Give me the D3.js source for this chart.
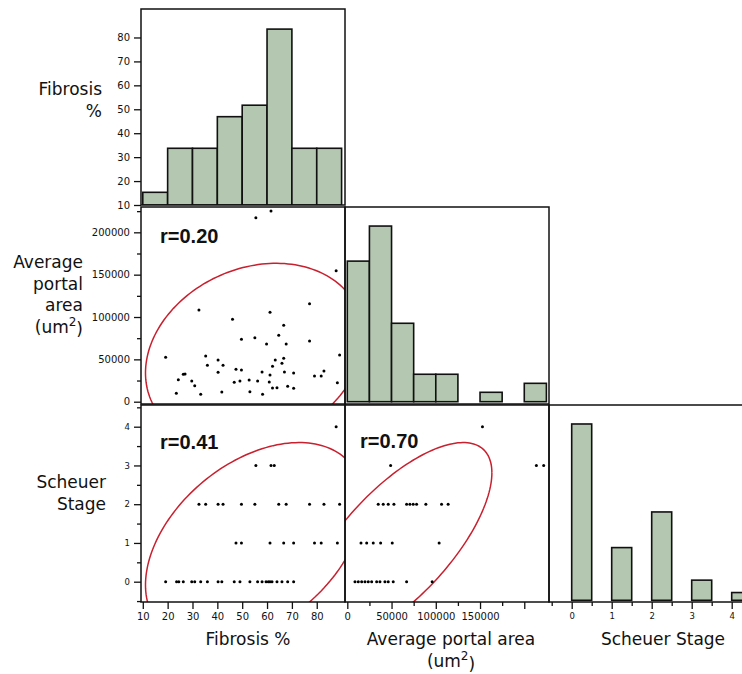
<!DOCTYPE html>
<meta charset="utf-8">
<style>
  body { margin: 0; background: #fff; }
  text { font-family: "DejaVu Sans", sans-serif; fill: #111; }
  .tick line { stroke: #111; stroke-width: 1.3; }
</style>
<svg width="742" height="674"></svg>
<script src="https://cdn.jsdelivr.net/npm/d3@7"></script>
<script>

// variables: fibrosis %, average portal area, scheuer stage
var varMeans = [54.9, 55500, 0.984];
var varSd = [17.9, 44080, 1.065];
var ellipseK = 2.4477; // 95% density ellipse
var corrFibArea = 0.20, corrFibStage = 0.41, corrAreaStage = 0.70;

// diagonal histograms (bar tops read in the axis units of each row)
var fibBins = [10, 20, 30, 40, 50, 60, 70, 80, 90];
var fibHist = [15.3, 33.7, 33.7, 46.9, 51.7, 83.5, 33.7, 33.7];
var areaBins = [0, 25000, 50000, 75000, 100000, 125000, 150000, 175000, 200000, 225000];
var areaHist = [166000, 207400, 92600, 32400, 32400, 0, 11100, 0, 21700];
var stageBins = [0, 1, 2, 3, 4];
var stageHist = [4.07, 0.88, 1.80, 0.04, -0.28];

// fibrosis % vs average portal area
var fibArea = [[55.5,217200],[61.6,225100],[87.8,154700],[32.6,108300],[77.1,115700],[46.1,97300],
  [61.2,105500],[66.7,90200],[64.7,78400],[77.1,71700],[67.7,68100],[59.8,68100],[55.1,75600],
  [49.7,73700],[19.2,52400],[35.3,54000],[89.2,55100],[40.3,49200],[63.3,49200],[66.7,51200],
  [36.0,43000],[42.3,43000],[66.0,45300],[62.2,41800],[40.3,34700],[47.5,38300],[49.7,37400],
  [58.0,35100],[67.0,35100],[70.7,33900],[61.2,31500],[79.1,30300],[81.8,30300],[82.9,36200],
  [24.3,26000],[26.3,32400],[27.0,32700],[29.7,24400],[46.8,22900],[49.1,24400],[52.8,25600],
  [56.2,24400],[60.9,23300],[88.3,22400],[30.9,18900],[62.2,16200],[64.0,16500],[68.3,18200],
  [70.7,15800],[23.5,9900],[33.3,8700],[41.8,11500],[53.1,11800],[58.2,8700]];

// fibrosis % grouped by scheuer stage 0..4
var fibByStage = [
  [19.2,23.6,24.5,26.3,29.7,30.9,33.3,36.0,40.3,41.8,46.8,49.1,53.1,56.2,58.0,59.6,60.5,61.2,62.0,64.0,66.0,68.3,70.7],
  [47.5,49.7,61.2,66.7,70.7,79.1,81.8,88.3],
  [32.6,35.3,40.3,42.3,49.7,55.1,64.7,67.7,77.1,82.9,89.2],
  [55.5,61.6,62.9],
  [87.8]];

// average portal area grouped by scheuer stage 0..4
var areaByStage = [
  [8690,12410,16250,19970,23690,27530,33170,36890,42530,46260,51900,67020,95900],
  [15460,21890,29330,37680,50770,103800],
  [34970,40620,46260,52690,67020,70740,74460,78300,88790,106500,113950],
  [48960,213680,221920],
  [152750]];

var svg = d3.select("svg");

var colX = [141, 345, 549], cellW = 204;
var rowY = [9, 207, 405], cellH = [196, 197, 197];

var xs = [
  d3.scaleLinear().domain([9.28, 91.37]).range([colX[0], colX[0] + cellW]),
  d3.scaleLinear().domain([-2600, 227940]).range([colX[1], colX[1] + cellW]),
  d3.scaleLinear().domain([-0.5675, 4.5325]).range([colX[2], colX[2] + cellW])
];
var ys = [
  d3.scaleLinear().domain([10, 91.9]).range([rowY[0] + cellH[0], rowY[0]]),
  d3.scaleLinear().domain([-2715, 229900]).range([rowY[1] + cellH[1], rowY[1]]),
  d3.scaleLinear().domain([-0.524, 4.56]).range([rowY[2] + cellH[2], rowY[2]])
];

var defs = svg.append("defs");
function cellClip(r, c) {
  var id = "clip" + r + c;
  defs.append("clipPath").attr("id", id).append("rect")
    .attr("x", colX[c]).attr("y", rowY[r]).attr("width", cellW).attr("height", cellH[r]);
  return "url(#" + id + ")";
}

// HISTOGRAMS
var barFill = "#b4c7b0";
function bars(r, c, data, base) {
  svg.append("g").attr("clip-path", cellClip(r, c))
    .selectAll("rect").data(data).enter().append("rect")
    .attr("x", function(d) { return xs[c](d.x0); })
    .attr("width", function(d) { return xs[c](d.x1) - xs[c](d.x0); })
    .attr("y", function(d) { return ys[r](d.h); })
    .attr("height", function(d) { return ys[r](base) - ys[r](d.h); })
    .attr("fill", barFill).attr("stroke", "#111").attr("stroke-width", 1.6);
}
bars(0, 0, fibHist.map(function(h, i) { return {x0: fibBins[i], x1: fibBins[i + 1], h: h}; }), 10);
bars(1, 1, areaHist.map(function(h, i) { return {x0: areaBins[i], x1: areaBins[i + 1], h: h}; })
  .filter(function(d) { return d.h > 0; }), 0);
bars(2, 2, stageHist.map(function(h, i) { return {x0: stageBins[i], x1: stageBins[i] + 0.5, h: h}; }), -0.48);

// SCATTERS + ELLIPSES
function flatten(groups) {
  var out = [];
  groups.forEach(function(g, s) { g.forEach(function(v) { out.push([v, s]); }); });
  return out;
}
var panels = [
  {r: 1, c: 0, xv: 0, yv: 1, rho: corrFibArea, pts: fibArea, lx: 19, ly: 36},
  {r: 2, c: 0, xv: 0, yv: 2, rho: corrFibStage, pts: flatten(fibByStage), lx: 19, ly: 44},
  {r: 2, c: 1, xv: 1, yv: 2, rho: corrAreaStage, pts: flatten(areaByStage), lx: 15, ly: 43}
];

panels.forEach(function(p) {
  var x = xs[p.c], y = ys[p.r];
  var g = svg.append("g").attr("clip-path", cellClip(p.r, p.c));
  var ell = d3.range(0, 361, 2).map(function(a) {
    var t = a * Math.PI / 180;
    return [varMeans[p.xv] + ellipseK * varSd[p.xv] * Math.cos(t),
            varMeans[p.yv] + ellipseK * varSd[p.yv] * (p.rho * Math.cos(t) + Math.sqrt(1 - p.rho * p.rho) * Math.sin(t))];
  });
  g.append("path")
    .attr("d", d3.line().x(function(d) { return x(d[0]); }).y(function(d) { return y(d[1]); })(ell))
    .attr("fill", "none").attr("stroke", "#c8202e").attr("stroke-width", 1.5);
  g.selectAll("circle").data(p.pts).enter().append("circle")
    .attr("cx", function(d) { return x(d[0]); })
    .attr("cy", function(d) { return y(d[1]); })
    .attr("r", 1.5).attr("fill", "#000");
  svg.append("text")
    .attr("x", colX[p.c] + p.lx).attr("y", rowY[p.r] + p.ly)
    .style("font-family", "'Liberation Sans', Arial, sans-serif")
    .style("font-weight", "bold").style("font-size", "20px")
    .text("r=" + p.rho.toFixed(2));
});

// FRAMES
[[0,0],[1,0],[1,1],[2,0],[2,1],[2,2]].forEach(function(rc) {
  svg.append("rect")
    .attr("x", colX[rc[1]]).attr("y", rowY[rc[0]])
    .attr("width", cellW).attr("height", cellH[rc[0]])
    .attr("fill", "none").attr("stroke", "#111").attr("stroke-width", 1.5);
});

// AXES
var fmt = d3.format("d");
function axis(gen, pos, vals, size, fs, fmtFn) {
  var a = svg.append("g").attr("transform", pos)
    .call(gen.tickValues(vals).tickSize(size).tickPadding(4).tickFormat(fmtFn || fmt));
  a.select(".domain").remove();
  a.selectAll("text").style("font-size", fs + "px");
  return a;
}
var none = function() { return ""; };
var bottomY = rowY[2] + cellH[2];

// left
axis(d3.axisLeft(ys[0]), "translate(" + colX[0] + ",0)", [10,20,30,40,50,60,70,80], 7, 10);
axis(d3.axisLeft(ys[1]), "translate(" + colX[0] + ",0)", [0,50000,100000,150000,200000], 7, 10);
axis(d3.axisLeft(ys[1]), "translate(" + colX[0] + ",0)", [25000,75000,125000,175000,225000], 4, 10, none);
axis(d3.axisLeft(ys[2]), "translate(" + colX[0] + ",0)", [0,1,2,3,4], 7, 8.5);
axis(d3.axisLeft(ys[2]), "translate(" + colX[0] + ",0)", [-0.5,0.5,1.5,2.5,3.5,4.5], 4, 8.5, none);

// bottom
axis(d3.axisBottom(xs[0]), "translate(0," + bottomY + ")", [10,20,30,40,50,60,70,80], 7, 10);
axis(d3.axisBottom(xs[1]), "translate(0," + bottomY + ")", [0,50000,100000,150000,200000], 7, 10,
  function(d) { return d > 150000 ? "" : fmt(d); });
axis(d3.axisBottom(xs[1]), "translate(0," + bottomY + ")", [25000,75000,125000,175000], 4, 10, none);
axis(d3.axisBottom(xs[2]), "translate(0," + bottomY + ")", [0,1,2,3,4], 7, 8.5);
axis(d3.axisBottom(xs[2]), "translate(0," + bottomY + ")", [-0.5,0.5,1.5,2.5,3.5], 4, 8.5, none);

// TITLES
function label(x, y, lines, anchor) {
  var t = svg.append("text").attr("text-anchor", anchor).style("font-size", "17px");
  lines.forEach(function(l, i) {
    var line = t.append("tspan").attr("x", x).attr("y", y + i * 21.5);
    if (l === "(um2)") {
      line.text("(um");
      line.append("tspan").attr("dy", "-0.55em").style("font-size", "12px").text("2");
      line.append("tspan").attr("dy", "0.55em").text(")");
    } else line.text(l);
  });
}
label(102, 95, ["Fibrosis", "%"], "end");
label(83, 268, ["Average", "portal", "area", "(um2)"], "end");
label(106, 488, ["Scheuer", "Stage"], "end");

label(248, 645, ["Fibrosis %"], "middle");
label(451, 645, ["Average portal area"], "middle");
label(451, 667, ["(um2)"], "middle");
label(663, 645, ["Scheuer Stage"], "middle");

</script>
